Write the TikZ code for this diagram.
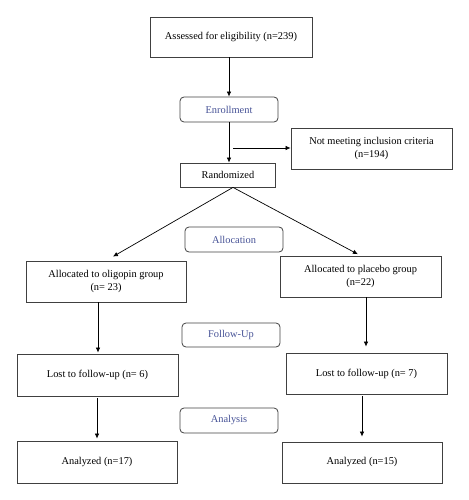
\documentclass[tikz,border=0pt]{standalone}
\usepackage{fontspec}
\setmainfont{Liberation Serif}
\usetikzlibrary{arrows.meta}
\definecolor{phaseblue}{RGB}{70,82,150}
\begin{document}
\begin{tikzpicture}[x=1pt,y=-1pt,
  box/.style={draw=black!75, line width=0.8pt, align=center, inner sep=0pt, font=\fontsize{10.4}{12.2}\selectfont},
  phase/.style={box, rounded corners=4pt, text=phaseblue},
  arr/.style={line width=0.7pt, -{Latex[length=5pt,width=4.5pt]}}]
\useasboundingbox (0,0) rectangle (468,500);
\node[box, minimum width=162pt, minimum height=40pt] (assess) at (231,37) {Assessed for eligibility (n=239)};
\node[phase, minimum width=98pt, minimum height=25pt] (enroll) at (229,109.5) {Enrollment};
\node[box, minimum width=161pt, minimum height=41pt] (notmeet) at (371.5,148.5) {Not meeting inclusion criteria\\(n=194)};
\node[box, minimum width=95pt, minimum height=24pt] (rand) at (228,175) {Randomized};
\node[phase, minimum width=98pt, minimum height=25pt] (alloc) at (234,239.5) {Allocation};
\node[box, minimum width=160pt, minimum height=41pt] (oligo) at (106,281.5) {Allocated to oligopin group\\(n= 23)};
\node[box, minimum width=161pt, minimum height=41pt] (placebo) at (360.5,276.5) {Allocated to placebo group\\(n=22)};
\node[phase, minimum width=98pt, minimum height=24pt] (follow) at (231,335) {Follow-Up};
\node[box, minimum width=161pt, minimum height=42pt] (lostL) at (97.5,375) {Lost to follow-up (n= 6)};
\node[box, minimum width=161pt, minimum height=41pt] (lostR) at (366.5,373.5) {Lost to follow-up (n= 7)};
\node[phase, minimum width=98pt, minimum height=25pt] (analysis) at (229,420.5) {Analysis};
\node[box, minimum width=160pt, minimum height=42pt] (anaL) at (97,462) {Analyzed (n=17)};
\node[box, minimum width=160pt, minimum height=41pt] (anaR) at (362,462.5) {Analyzed (n=15)};
\coordinate (split) at (229,148);
% arrows
\draw[arr] (229,0 |- assess.south) -- (229,0 |- enroll.north);
\draw[arr] (enroll.south) -- (229,0 |- rand.north);
\draw[arr] ([xshift=4pt]split) -- (split -| notmeet.west);
\draw[arr, shorten >=8pt] ([xshift=5pt]rand.south) -- (oligo.north);
\draw[arr, shorten >=3pt] ([xshift=5pt]rand.south) -- (placebo.north);
\draw[arr, shorten >=1pt] (98,0 |- oligo.south) -- (98,0 |- lostL.north);
\draw[arr, shorten >=6pt] (366,0 |- placebo.south) -- (366,0 |- lostR.north);
\draw[arr, shorten <=2pt, shorten >=2pt] (97,0 |- lostL.south) -- (97,0 |- anaL.north);
\draw[arr, shorten <=2pt, shorten >=5pt] (362,0 |- lostR.south) -- (362,0 |- anaR.north);
\end{tikzpicture}
\end{document}
